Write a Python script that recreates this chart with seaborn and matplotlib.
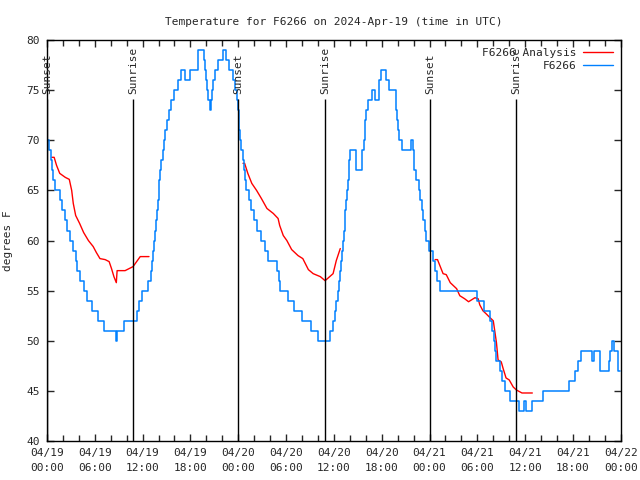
import numpy as np
import pandas as pd
import matplotlib
matplotlib.use("Agg")
import matplotlib.pyplot as plt
import matplotlib.dates as mdates
from matplotlib.lines import Line2D
import seaborn as sns

# ---- data (hours after 2024-04-19 00:00 UTC) ----
start = pd.Timestamp("2024-04-19 00:00")

# observed station temps (integer F, value holds until next change)
obs_hours = [0.0, 0.25, 0.45, 0.6, 0.8, 1.0, 1.6, 1.9, 2.2, 2.5, 2.9, 3.3, 3.6, 3.8, 4.1,
             4.6, 5.0, 5.6, 6.4, 7.1, 8.6, 8.8, 9.7, 11.3, 11.5, 11.9, 12.7, 13.0, 13.2,
             13.3, 13.4, 13.55, 13.65, 13.75, 13.9, 14.0, 14.1, 14.2, 14.35, 14.5, 14.7,
             14.85, 15.0, 15.3, 15.6, 16.0, 16.5, 16.8, 17.3, 17.9, 18.95, 19.65, 19.8,
             19.95, 20.1, 20.25, 20.4, 20.55, 20.7, 20.85, 21.05, 21.4, 22.05, 22.45, 22.9,
             23.3, 23.6, 23.8, 23.95, 24.05, 24.15, 24.25, 24.4, 24.55, 24.7, 24.85, 25.0,
             25.3, 25.6, 26.0, 26.4, 26.9, 27.3, 27.7, 28.8, 29.1, 29.3, 30.2, 31.0, 32.0,
             33.1, 34.0, 35.5, 35.9, 36.1, 36.3, 36.5, 36.7, 36.8, 36.95, 37.05, 37.15,
             37.25, 37.35, 37.45, 37.55, 37.65, 37.75, 37.85, 37.95, 38.05, 38.75, 39.55,
             39.75, 39.85, 39.95, 40.05, 40.25, 40.8, 41.2, 41.6, 41.95, 42.5, 42.9, 43.8,
             43.85, 43.95, 44.05, 44.2, 44.5, 45.7, 45.9, 46.0, 46.1, 46.3, 46.7, 46.85,
             47.0, 47.2, 47.4, 47.6, 47.9, 48.4, 48.7, 48.95, 49.3, 53.9, 54.8, 55.6,
             55.9, 56.05, 56.2, 56.4, 56.9, 57.1, 57.5, 58.1, 59.2, 59.9, 60.05, 60.9,
             62.3, 65.5, 66.3, 66.6, 67.0, 68.4, 68.6, 69.4, 70.5, 70.7, 70.9, 71.2, 71.7,
             71.9]
obs_temps = [70, 69, 68, 67, 66, 65, 64, 63, 62, 61, 60, 59, 58, 57, 56,
             55, 54, 53, 52, 51, 50, 51, 52, 53, 54, 55, 56, 57, 58,
             59, 60, 61, 62, 63, 64, 65, 66, 67, 68, 69, 70,
             71, 72, 73, 74, 75, 76, 77, 76, 77, 79, 78, 77,
             76, 75, 74, 73, 74, 75, 76, 77, 78, 79, 78, 77,
             76, 75, 74, 73, 72, 71, 70, 69, 68, 67, 66, 65,
             64, 63, 62, 61, 60, 59, 58, 57, 56, 55, 54, 53, 52,
             51, 50, 51, 52, 53, 54, 55, 56, 57, 58, 59, 60,
             61, 62, 63, 64, 65, 66, 67, 68, 69, 67, 69,
             70, 71, 72, 73, 74, 75, 74, 76, 77, 76, 75, 74,
             73, 72, 71, 70, 69, 70, 69, 68, 67, 66, 65, 64,
             63, 62, 61, 60, 59, 58, 57, 56, 55, 54, 53, 52,
             51, 50, 49, 48, 47, 46, 45, 44, 43, 44, 43, 44,
             45, 46, 47, 48, 49, 48, 49, 47, 48, 49, 50, 49, 47,
             47]

# analysis series, three nightly segments
ana_seg = [1] * 25 + [2] * 22 + [3] * 29
ana_hours = [0.6, 0.9, 1.2, 1.6, 2.3, 2.8, 3.1, 3.3, 3.6, 4.1, 4.6, 5.2, 5.8, 6.2, 6.65,
             7.3, 7.8, 8.1, 8.4, 8.7, 8.8, 9.8, 10.8, 11.7, 12.8,
             24.6, 24.8, 25.2, 25.7, 26.3, 26.9, 27.6, 28.4, 29.0, 29.2, 29.65, 30.1,
             30.7, 31.5, 32.1, 32.8, 33.4, 34.3, 34.9, 35.9, 36.3, 36.8,
             48.7, 49.0, 49.3, 49.7, 50.1, 50.6, 51.4, 51.8, 52.4, 52.9, 53.3, 53.7,
             54.1, 54.3, 54.7, 55.1, 55.6, 56.0, 56.2, 56.4, 56.6, 57.0, 57.25, 57.6,
             58.0, 58.5, 58.9, 59.6, 60.9]
ana_temps = [68.3, 68.3, 67.5, 66.7, 66.3, 66.1, 65.0, 63.7, 62.5, 61.7, 60.8, 60.0, 59.4,
             58.8, 58.2, 58.1, 57.9, 57.2, 56.4, 55.8, 57.0, 57.0, 57.4, 58.4, 58.4,
             67.7, 67.7, 66.7, 65.7, 65.0, 64.2, 63.2, 62.7, 62.2, 61.5, 60.5, 60.0,
             59.1, 58.5, 58.2, 57.1, 56.7, 56.4, 56.0, 56.7, 58.0, 59.2,
             58.1, 58.1, 57.5, 56.7, 56.6, 55.8, 55.2, 54.5, 54.2, 53.9, 54.1, 54.3,
             54.2, 53.6, 53.0, 52.7, 52.3, 52.0, 50.9, 49.8, 48.1, 47.9, 47.2, 46.3,
             46.1, 45.4, 45.1, 44.8, 44.8]

sun_labels = ["Sunset", "Sunrise", "Sunset", "Sunrise", "Sunset", "Sunrise"]
sun_hours = [0.05, 10.8, 23.95, 34.9, 48.05, 58.85]

obs = pd.DataFrame({"time": start + pd.to_timedelta(obs_hours, unit="h"), "temp": obs_temps})
ana = pd.DataFrame({"time": start + pd.to_timedelta(ana_hours, unit="h"),
                    "temp": ana_temps, "seg": ana_seg})
sun_times = start + pd.to_timedelta(sun_hours, unit="h")

# ---- plot ----
sns.set_style("ticks")
plt.rcParams["font.family"] = ["DejaVu Sans Mono"]
plt.rcParams["font.size"] = 8

fig = plt.figure(figsize=(6.4, 4.8), dpi=100)
ax = fig.add_axes([0.0734, 0.081, 0.8966, 0.8357])

red = "#ff0000"
blue = "#0080ff"

sns.lineplot(data=ana, x="time", y="temp", units="seg", estimator=None, sort=False,
             color=red, linewidth=1, ax=ax, legend=False)
sns.lineplot(data=obs, x="time", y="temp", estimator=None, sort=False,
             color=blue, linewidth=1.1, drawstyle="steps-post", ax=ax, legend=False)

ax.vlines(sun_times, 40, 74.1, color="black", linewidth=1)
for t, lab in zip(sun_times, sun_labels):
    ax.text(t, 74.6, lab, rotation=90, ha="center", va="bottom", fontsize=8)

ax.set_xlim(start, start + pd.Timedelta(hours=72))
ax.set_ylim(40, 80)
ax.set_yticks(np.arange(40, 81, 5))
ax.xaxis.set_major_locator(mdates.HourLocator(byhour=[0, 6, 12, 18]))
ax.xaxis.set_minor_locator(mdates.HourLocator(interval=2))
ax.xaxis.set_major_formatter(mdates.DateFormatter("%m/%d\n%H:%M"))
ax.tick_params(which="both", direction="in", top=True, right=True, labelsize=8, width=1)
ax.tick_params(which="major", length=5, pad=5)
ax.tick_params(which="minor", length=4)
for lbl in ax.get_xticklabels():
    lbl.set_linespacing(1.6)
for s in ax.spines.values():
    s.set_linewidth(1)
    s.set_color("black")

ax.set_xlabel("")
ax.set_ylabel("degrees F", fontsize=8, labelpad=10)
ax.set_title("Temperature for F6266 on 2024-Apr-19 (time in UTC)", fontsize=8, pad=11)

handles = [Line2D([], [], color=red, linewidth=1), Line2D([], [], color=blue, linewidth=1)]
ax.legend(handles, ["F6266 Analysis", "F6266"], loc="upper right", frameon=False,
          markerfirst=False, fontsize=8, handlelength=2.7, borderaxespad=0.3,
          labelspacing=0.3, handletextpad=0.6, borderpad=0.4)

fig.savefig("out.png", dpi=100)
